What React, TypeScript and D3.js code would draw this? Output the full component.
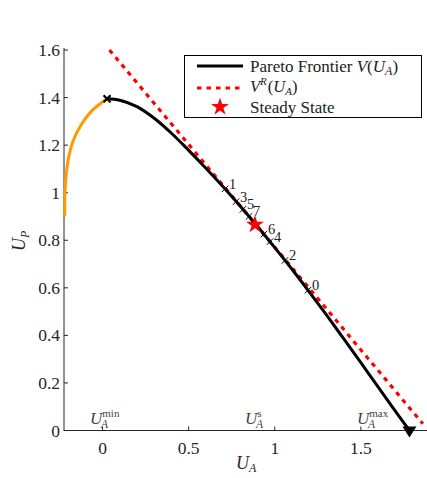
import React from "react";
import * as d3 from "d3";

// ---- data ----
const orangeUA = [-0.22, -0.217, -0.201, -0.172, -0.124, -0.066, -0.008, 0.026];
const orangeUP = [0.901, 1.02, 1.132, 1.216, 1.286, 1.342, 1.377, 1.395];

const paretoUA = [0.026, 0.1, 0.2, 0.3, 0.4, 0.5, 0.6, 0.7, 0.8, 0.9, 1.0, 1.1, 1.2, 1.3, 1.4, 1.5, 1.6, 1.7, 1.782];
const paretoUP = [1.395, 1.389, 1.362, 1.313, 1.25, 1.178, 1.103, 1.025, 0.943, 0.858, 0.769, 0.678, 0.583, 0.486, 0.386, 0.285, 0.183, 0.081, 0.0];

const vrUA = [0.04, 1.86];
const vrUP = [1.6, 0.028];

const iterLabels = ["0", "1", "2", "3", "4", "5", "6", "7"];
const iterUA = [1.193, 0.711, 1.059, 0.775, 0.972, 0.815, 0.937, 0.85];
const iterUP = [0.59, 1.016, 0.715, 0.962, 0.794, 0.93, 0.826, 0.9];

const steadyUA = 0.885;
const steadyUP = 0.866;

const peakUA = 0.026;
const peakUP = 1.395;
const endUA = 1.782;
const endUP = 0.0;

const xTicks = [0, 0.5, 1, 1.5];
const xTickLabels = ["0", "0.5", "1", "1.5"];
const yTicks = [0, 0.2, 0.4, 0.6, 0.8, 1, 1.2, 1.4, 1.6];
const yTickLabels = ["0", "0.2", "0.4", "0.6", "0.8", "1", "1.2", "1.4", "1.6"];

const annotUA = [-0.073, 0.827, 1.477];
const annotSup = ["min", "s", "max"];

// ---- layout ----
const W = 427;
const H = 478;
const AX = "#262626";
const FONT = "'Liberation Serif', 'Times New Roman', serif";

export default function App() {
  const x = d3.scaleLinear().domain([-0.224, 1.884]).range([64, 427]);
  const y = d3.scaleLinear().domain([0, 1.6]).range([430.5, 50]);

  const line = d3
    .line<[number, number]>()
    .x((d) => x(d[0]))
    .y((d) => y(d[1]))
    .curve(d3.curveCatmullRom.alpha(0.5));

  const orangePts = orangeUA.map((u, i) => [u, orangeUP[i]] as [number, number]);
  const paretoPts = paretoUA.map((u, i) => [u, paretoUP[i]] as [number, number]);
  const vrPts = vrUA.map((u, i) => [u, vrUP[i]] as [number, number]);

  const starPath = d3.symbol().type(d3.symbolStar).size(100)() as string;
  const cross = (cx: number, cy: number, r: number, w: number, key: string) => (
    <g key={key} stroke="#000" strokeWidth={w}>
      <line x1={cx - r} y1={cy - r} x2={cx + r} y2={cy + r} />
      <line x1={cx - r} y1={cy + r} x2={cx + r} y2={cy - r} />
    </g>
  );

  const ex = x(endUA);
  const ey = y(endUP);

  return (
    <svg
      width={W}
      height={H}
      style={{ position: "absolute", left: 0, top: 0, background: "#fff" }}
      fontFamily={FONT}
    >
      <rect x={0} y={0} width={W} height={H} fill="#fff" />
      {/* axes */}
      <line x1={64} y1={48} x2={64} y2={431} stroke={AX} strokeWidth={1} />
      <line x1={64} y1={430.5} x2={427} y2={430.5} stroke={AX} strokeWidth={1} />
      {yTicks.map((t, i) => (
        <g key={"yt" + i}>
          <line x1={64} x2={68} y1={y(t)} y2={y(t)} stroke={AX} />
          <text x={60} y={y(t)} textAnchor="end" dominantBaseline="central" fontSize={17.5} fill={AX}>
            {yTickLabels[i]}
          </text>
        </g>
      ))}
      {xTicks.map((t, i) => (
        <g key={"xt" + i}>
          <line x1={x(t)} x2={x(t)} y1={430.5} y2={426.5} stroke={AX} />
          <text x={x(t)} y={454} textAnchor="middle" fontSize={17.5} fill={AX}>
            {xTickLabels[i]}
          </text>
        </g>
      ))}
      {/* axis labels */}
      <text x={236} y={469} fontSize={18} fill={AX}>
        <tspan fontStyle="italic">U</tspan>
        <tspan fontStyle="italic" fontSize={12} dy={3}>A</tspan>
      </text>
      <text transform="translate(25,251) rotate(-90)" fontSize={18} fill={AX}>
        <tspan fontStyle="italic">U</tspan>
        <tspan fontStyle="italic" fontSize={12} dy={4}>P</tspan>
      </text>

      {/* annotations on the x axis */}
      {annotUA.map((u, i) => (
        <text key={"an" + i} x={x(u)} y={424} fontSize={17} fill="#444">
          <tspan fontStyle="italic">U</tspan>
          <tspan fontSize={11} dy={-7}>{annotSup[i]}</tspan>
        </text>
      ))}
      {annotUA.map((u, i) => (
        <text key={"ans" + i} x={x(u) + 11} y={428} fontSize={11.5} fontStyle="italic" fill="#444">
          A
        </text>
      ))}

      {/* V^R line */}
      <path
        d={line(vrPts) as string}
        fill="none"
        stroke="#ff0000"
        strokeWidth={3.2}
        strokeDasharray="4.5,5"
      />
      {/* orange part */}
      <path d={line(orangePts) as string} fill="none" stroke="#ff9900" strokeWidth={3} />
      {/* Pareto frontier */}
      <path d={line(paretoPts) as string} fill="none" stroke="#000" strokeWidth={3} />

      {/* iteration markers */}
      {iterUA.map((u, i) => cross(x(u), y(iterUP[i]), 3.2, 1, "c" + i))}
      {iterUA.map((u, i) => (
        <text
          key={"il" + i}
          x={x(u) + 4}
          y={y(iterUP[i]) - 5}
          dominantBaseline="central"
          fontSize={14.5}
          fill="#222"
        >
          {iterLabels[i]}
        </text>
      ))}

      {/* peak marker */}
      {cross(x(peakUA), y(peakUP), 3.5, 2.2, "peak")}
      {/* end triangle */}
      <polygon
        points={`${ex - 7},${ey - 4} ${ex + 7},${ey - 4} ${ex},${ey + 7}`}
        fill="#000"
      />

      {/* steady state star */}
      <path d={starPath} transform={`translate(${x(steadyUA)},${y(steadyUP)})`} fill="#ff0000" />

      {/* legend */}
      <rect x={184.5} y={55.5} width={237} height={62} fill="#fff" stroke="#000" strokeWidth={1} />
      <line x1={197} x2={243} y1={66} y2={66} stroke="#000" strokeWidth={3} />
      <text x={250} y={71.5} fontSize={17} fill="#222">
        Pareto Frontier{" "}
        <tspan fontStyle="italic">V</tspan>(<tspan fontStyle="italic">U</tspan>
        <tspan fontStyle="italic" fontSize={12} dy={3}>A</tspan>
        <tspan dy={-3}>)</tspan>
      </text>
      <line x1={197} x2={243} y1={88} y2={88} stroke="#ff0000" strokeWidth={3.2} strokeDasharray="4.5,5" />
      <text x={250} y={92} fontSize={16.5} fill="#222">
        <tspan fontStyle="italic">V</tspan>
        <tspan fontSize={11} fontStyle="italic" dy={-7}>R</tspan>
        <tspan dy={7} dx={1}>(</tspan>
        <tspan fontStyle="italic">U</tspan>
        <tspan fontStyle="italic" fontSize={11} dy={2.5}>A</tspan>
        <tspan dy={-2.5}>)</tspan>
      </text>
      <path d={starPath} transform="translate(220,107)" fill="#ff0000" />
      <text x={250} y={112.5} fontSize={17} fill="#222">
        Steady State
      </text>
    </svg>
  );
}
